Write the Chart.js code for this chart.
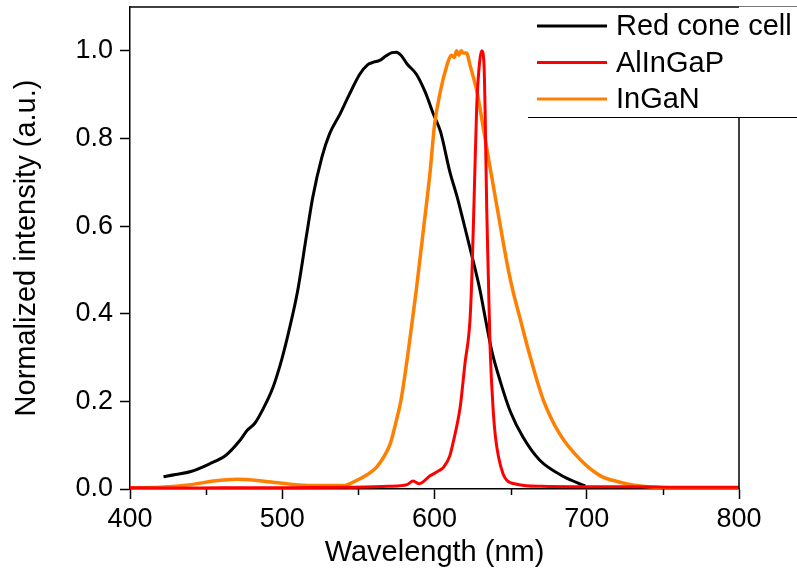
<!DOCTYPE html>
<html>
<head>
<meta charset="utf-8">
<title>Emission spectra</title>
<script src="https://cdn.jsdelivr.net/npm/chart.js@4/dist/chart.umd.min.js"></script>
<style>
    html, body { margin: 0; padding: 0; background: #fff; }
</style>
</head>
<body>
<canvas id="spectraChart" width="797" height="575"></canvas>
<script>
/* ==========================================
   Spectra: red cone cell vs. AlInGaP / InGaN
   ========================================== */

const coneWl = [422, 430, 440, 452, 463, 472, 477, 482, 487, 494, 500, 505, 510, 516, 520, 526, 531, 538, 544, 551, 556, 560, 564, 568, 572, 575, 578, 582, 588, 594, 599, 604, 610, 615, 619, 624, 630, 632, 637.5, 643, 650, 658, 669, 685, 699];
const coneVal = [0.028, 0.033, 0.040, 0.057, 0.077, 0.110, 0.134, 0.150, 0.180, 0.233, 0.300, 0.370, 0.450, 0.580, 0.665, 0.757, 0.810, 0.856, 0.900, 0.947, 0.968, 0.974, 0.978, 0.988, 0.996, 0.997, 0.990, 0.970, 0.947, 0.905, 0.858, 0.815, 0.725, 0.665, 0.610, 0.540, 0.452, 0.415, 0.317, 0.248, 0.175, 0.119, 0.066, 0.028, 0.007];

const alingapWl = [400, 430, 460, 500, 540, 570, 582, 586, 590, 597, 603, 606, 610, 612.5, 615, 617, 620, 623.3, 624.5, 626, 627.7, 629.5, 631, 632.5, 633.2, 634.3, 635.4, 636.5, 638.7, 640, 642, 645, 647.5, 654, 670, 700, 730, 760, 800];
const alingapVal = [0.003, 0.002, 0.003, 0.003, 0.004, 0.006, 0.010, 0.018, 0.012, 0.030, 0.042, 0.050, 0.075, 0.110, 0.150, 0.190, 0.286, 0.385, 0.480, 0.660, 0.870, 0.970, 1.000, 0.970, 0.870, 0.640, 0.480, 0.324, 0.172, 0.120, 0.074, 0.035, 0.020, 0.011, 0.006, 0.005, 0.005, 0.004, 0.004];

const inganWl = [400, 420, 440, 455, 470, 485, 500, 520, 540, 549, 556, 562, 567, 571, 575, 578, 583, 588, 593, 597, 600, 604, 608, 611, 613, 614.5, 616, 617.5, 619, 621, 623.5, 628, 632, 636.5, 642, 648.5, 652, 656, 663, 671.5, 682, 696, 709, 720, 730, 745, 770, 800];
const inganVal = [0.002, 0.004, 0.010, 0.018, 0.022, 0.019, 0.013, 0.008, 0.008, 0.020, 0.033, 0.050, 0.075, 0.104, 0.157, 0.203, 0.320, 0.453, 0.600, 0.720, 0.830, 0.910, 0.965, 0.990, 0.985, 1.000, 0.990, 1.000, 0.995, 0.995, 0.965, 0.905, 0.825, 0.734, 0.625, 0.500, 0.445, 0.392, 0.300, 0.203, 0.127, 0.066, 0.030, 0.017, 0.009, 0.004, 0.002, 0.002];

const xTicks = [400, 500, 600, 700, 800];
const xMinorTicks = [450, 550, 650, 750];
const yTicks = [0, 0.2, 0.4, 0.6, 0.8, 1.0];

const FONT = "'Liberation Sans', Arial, sans-serif";

function toPoints(xs, ys) {
    return xs.map((x, i) => ({ x, y: ys[i] }));
}

// Frame, minor ticks and the boxed legend in the top-right corner
const frameLegend = {
    id: "frameLegend",
    afterDraw(chart) {
        const { ctx, chartArea: a, scales } = chart;
        const W = chart.width;
        const box = { left: 528, top: 6, bottom: 117 };

        ctx.save();

        // minor ticks on the wavelength axis
        ctx.strokeStyle = "#000";
        ctx.lineWidth = 1.5;
        ctx.beginPath();
        xMinorTicks.forEach(v => {
            const px = Math.round(scales.x.getPixelForValue(v)) + 0.5;
            ctx.moveTo(px, a.bottom);
            ctx.lineTo(px, a.bottom + 6);
        });
        ctx.stroke();

        // legend background
        ctx.fillStyle = "#fff";
        ctx.fillRect(box.left, box.top, W - box.left, box.bottom - box.top);

        // top border of the plot box
        ctx.beginPath();
        ctx.moveTo(a.left, a.top);
        ctx.lineTo(a.right, a.top);
        ctx.stroke();

        // right border, below the legend
        ctx.beginPath();
        ctx.moveTo(a.right, box.bottom);
        ctx.lineTo(a.right, a.bottom);
        ctx.stroke();

        // legend frame lines
        ctx.lineWidth = 1;
        ctx.strokeStyle = "#777";
        ctx.beginPath();
        ctx.moveTo(a.right, box.top + 0.5);
        ctx.lineTo(W, box.top + 0.5);
        ctx.stroke();
        ctx.strokeStyle = "#000";
        ctx.beginPath();
        ctx.moveTo(box.left, box.bottom + 0.5);
        ctx.lineTo(W, box.bottom + 0.5);
        ctx.stroke();

        // legend entries
        ctx.font = `29px ${FONT}`;
        ctx.textBaseline = "middle";
        ctx.textAlign = "left";
        chart.data.datasets.forEach((ds, i) => {
            const y = 26 + i * 36.5;
            ctx.strokeStyle = ds.borderColor;
            ctx.lineWidth = 3;
            ctx.beginPath();
            ctx.moveTo(537, y);
            ctx.lineTo(607, y);
            ctx.stroke();
            ctx.fillStyle = "#000";
            ctx.fillText(ds.label, 616, y + 1);
        });

        ctx.restore();
    }
};

const canvas = document.getElementById("spectraChart");

new Chart(canvas, {
    type: "line",
    data: {
        datasets: [
            {
                label: "Red cone cell",
                data: toPoints(coneWl, coneVal),
                borderColor: "#000000",
                borderWidth: 3,
                order: 2
            },
            {
                label: "AlInGaP",
                data: toPoints(alingapWl, alingapVal),
                borderColor: "#ff0000",
                borderWidth: 3,
                order: 0
            },
            {
                label: "InGaN",
                data: toPoints(inganWl, inganVal),
                borderColor: "#ff8000",
                borderWidth: 3.5,
                order: 1
            }
        ]
    },
    options: {
        responsive: false,
        animation: false,
        devicePixelRatio: 1,
        elements: {
            point: { radius: 0 },
            line: { cubicInterpolationMode: "monotone", fill: false }
        },
        layout: {
            padding: { top: 7, right: 58, left: 0, bottom: 0 }
        },
        plugins: {
            legend: { display: false },
            tooltip: { enabled: false }
        },
        scales: {
            x: {
                type: "linear",
                min: 400,
                max: 800,
                afterFit: s => {
                    s.height = 86;
                    s.paddingLeft = 0;
                    s.paddingRight = 0;
                },
                afterBuildTicks: s => { s.ticks = xTicks.map(value => ({ value })); },
                ticks: {
                    color: "#000",
                    font: { family: FONT, size: 27 },
                    padding: 4,
                    maxRotation: 0,
                    callback: v => String(v)
                },
                grid: {
                    drawOnChartArea: false,
                    drawTicks: true,
                    tickLength: 10,
                    tickWidth: 1.5,
                    tickColor: "#000"
                },
                border: { display: true, color: "#000", width: 1.5 },
                title: {
                    display: true,
                    text: "Wavelength (nm)",
                    color: "#000",
                    font: { family: FONT, size: 29 },
                    padding: { top: 0, bottom: 5 }
                }
            },
            y: {
                min: 0,
                max: 1.1,
                afterFit: s => {
                    s.width = 130;
                    s.paddingTop = 0;
                    s.paddingBottom = 0;
                },
                afterBuildTicks: s => { s.ticks = yTicks.map(value => ({ value })); },
                ticks: {
                    color: "#000",
                    font: { family: FONT, size: 27 },
                    padding: 7,
                    callback: v => Number(v).toFixed(1)
                },
                grid: {
                    drawOnChartArea: false,
                    drawTicks: true,
                    tickLength: 10,
                    tickWidth: 1.5,
                    tickColor: "#000"
                },
                border: { display: true, color: "#000", width: 1.5 },
                title: {
                    display: true,
                    text: "Normalized intensity (a.u.)",
                    color: "#000",
                    font: { family: FONT, size: 29 },
                    padding: { top: 10, bottom: 0 }
                }
            }
        }
    },
    plugins: [frameLegend]
});
</script>
</body>
</html>
